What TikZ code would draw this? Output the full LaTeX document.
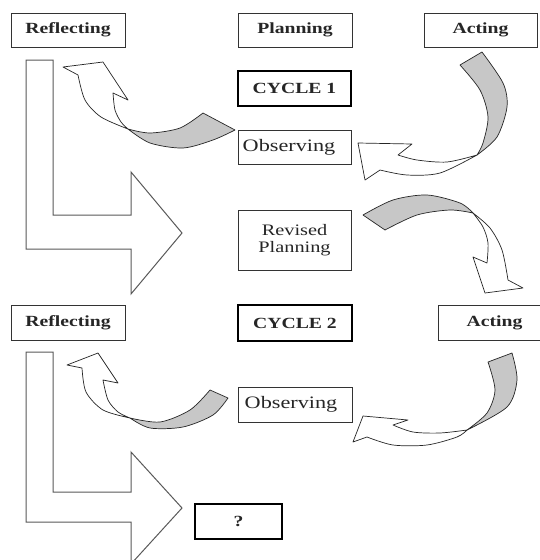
\documentclass[tikz,border=0pt]{standalone}
\usepackage{fontspec}
\setmainfont{Liberation Serif}[FakeStretch=1.27]
\begin{document}
\begin{tikzpicture}[x=1pt,y=-1pt,
  box/.style={draw=black!80, line width=0.9pt, fill=white, inner sep=0pt, text=black!85},
  boldbox/.style={box, line width=2.2pt, draw=black},
  btxt/.style={font=\fontsize{15.5}{17}\selectfont\bfseries},
  ntxt/.style={font=\fontsize{16}{17}\selectfont},
  otxt/.style={font=\fontsize{17.5}{18}\selectfont},
  larrow/.style={draw=black!65, line width=1pt, fill=white, line join=miter},
  band/.style={draw=black!85, line width=0.7pt, fill=white, line join=round},
  bandback/.style={band, fill=black!22}]
\useasboundingbox (0,0) rectangle (540,560);
\clip (0,0) rectangle (540,560);
\fill[white] (0,0) rectangle (540,560);

% big L-shaped arrows
\path[larrow] (26,60) -- (53,60) -- (53,215) -- (131,215) -- (131,172) -- (182,233) -- (131,294) -- (131,249) -- (26,249) -- cycle;
\path[larrow] (26,352) -- (53,352) -- (53,492) -- (131,492) -- (131,452) -- (182,508) -- (131,564) -- (131,522) -- (26,522) -- cycle;

% curved arrow A: Observing 1 -> Reflecting 1
\path[bandback] (128,129) -- plot[smooth] coordinates {(128,129) (150,133) (180,128) (203,113)} -- (235,130)
  -- plot[smooth] coordinates {(235,130) (213,140) (183,148) (150,143) (128,129)} -- cycle;
\path[band] (78,75) -- (63,67) -- (103,62) -- (128,100) -- (113,93)
  -- plot[smooth] coordinates {(113,93) (115,110) (121,122) (128,129)}
  -- plot[smooth] coordinates {(128,129) (101,117) (85,100) (78,75)} -- cycle;

% curved arrow B: Acting 1 -> Observing 1
\path[bandback] (460,65) -- (482,52) -- plot[smooth] coordinates {(482,52) (503,83) (507,107) (497,137) (477,155)}
  -- plot[smooth] coordinates {(477,155) (483,143) (488,117) (480,90) (460,65)} -- cycle;
\path[band] (477,155) -- plot[smooth] coordinates {(477,155) (447,162) (417,160) (398,155)}
  -- (412,144) -- (358,143) -- (365,180) -- (380,170)
  -- plot[smooth] coordinates {(380,170) (407,175) (440,173) (477,155)} -- cycle;

% curved arrow C: Revised Planning -> Acting 2
\path[bandback] (363,215) -- plot[smooth] coordinates {(363,215) (393,200) (427,195) (460,203) (473,213)}
  -- plot[smooth] coordinates {(473,213) (450,210) (417,215) (385,230)} -- cycle;
\path[band] (473,213) -- plot[smooth] coordinates {(473,213) (490,228) (502,250) (508,280)}
  -- (523,288) -- (485,293) -- (473,257) -- (487,263)
  -- plot[smooth] coordinates {(487,263) (488,243) (483,227) (473,213)} -- cycle;

% curved arrow D: Acting 2 -> Observing 2
\path[bandback] (488,362) -- (512,353) -- plot[smooth] coordinates {(512,353) (517,380) (507,407) (467,430)}
  -- plot[smooth] coordinates {(467,430) (487,413) (495,390) (488,362)} -- cycle;
\path[band] (467,430) -- plot[smooth] coordinates {(467,430) (440,433) (413,432) (393,425)}
  -- (408,420) -- (363,416) -- (353,442) -- (367,437)
  -- plot[smooth] coordinates {(367,437) (393,445) (427,445) (457,437) (467,430)} -- cycle;

% curved arrow E: Observing 2 -> Reflecting 2
\path[bandback] (130,418) -- plot[smooth] coordinates {(130,418) (160,422) (190,410) (210,390)} -- (228,398)
  -- plot[smooth] coordinates {(228,398) (213,415) (183,427) (150,428) (130,418)} -- cycle;
\path[band] (82,368) -- (67,365) -- (98,353) -- (118,383) -- (103,380)
  -- plot[smooth] coordinates {(103,380) (108,400) (118,412) (130,418)}
  -- plot[smooth] coordinates {(130,418) (103,410) (86,392) (82,368)} -- cycle;

% boxes
\node[box, btxt, minimum width=114pt, minimum height=34pt] (refl1) at (68,30) {Reflecting};
\node[box, btxt, minimum width=114pt, minimum height=34pt] (plan) at (295,30) {Planning};
\node[box, btxt, minimum width=113pt, minimum height=34pt] (act1) at (480.5,30) {Acting};
\node[boldbox, btxt, minimum width=113pt, minimum height=35pt] (cyc1) at (294.5,88.5) {CYCLE 1};
\node[box, minimum width=113pt, minimum height=34pt] (obs1) at (294.5,147) {};
\node[otxt, text=black!85] (obs1t) at (289,147) {Observing};
\node[box, ntxt, minimum width=113pt, minimum height=60pt, align=center] (rev) at (294.5,240) {Revised\\Planning};
\node[box, btxt, minimum width=114pt, minimum height=35pt] (refl2) at (68,322.5) {Reflecting};
\node[boldbox, btxt, minimum width=114pt, minimum height=36pt] (cyc2) at (295,323) {CYCLE 2};
\node[box, btxt, minimum width=113pt, minimum height=35pt] (act2) at (494.5,322.5) {Acting};
\node[box, minimum width=114pt, minimum height=35pt] (obs2) at (295,404.5) {};
\node[otxt, text=black!85] (obs2t) at (291,404.5) {Observing};
\node[boldbox, btxt, minimum width=87pt, minimum height=35pt] (q) at (238.5,521.5) {?};
\end{tikzpicture}
\end{document}
